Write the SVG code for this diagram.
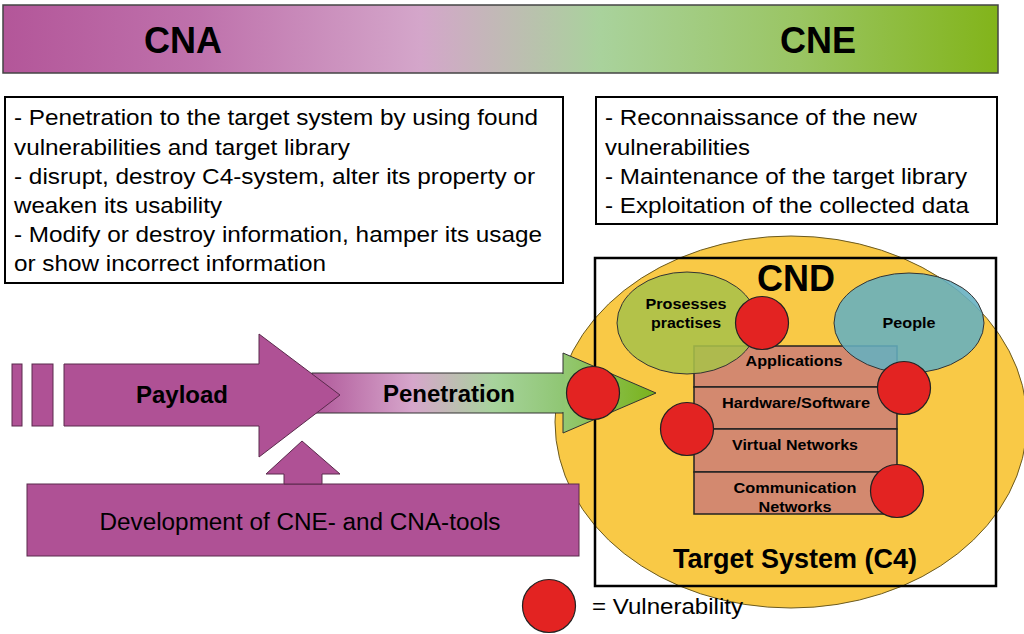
<svg xmlns="http://www.w3.org/2000/svg" width="1024" height="634" viewBox="0 0 1024 634">
  <defs>
    <linearGradient id="barGrad" x1="0" y1="0" x2="1" y2="0">
      <stop offset="0" stop-color="#B35699"/>
      <stop offset="0.2" stop-color="#BF72AC"/>
      <stop offset="0.42" stop-color="#D4A6CA"/>
      <stop offset="0.6" stop-color="#A9D29C"/>
      <stop offset="0.8" stop-color="#9AC563"/>
      <stop offset="1" stop-color="#82B41A"/>
    </linearGradient>
    <linearGradient id="penGrad" gradientUnits="userSpaceOnUse" x1="312" y1="0" x2="564" y2="0">
      <stop offset="0" stop-color="#B0589A"/>
      <stop offset="0.4" stop-color="#D6A6CB"/>
      <stop offset="0.72" stop-color="#A7D39C"/>
      <stop offset="1" stop-color="#8FC673"/>
    </linearGradient>
    <linearGradient id="headGrad" gradientUnits="userSpaceOnUse" x1="563" y1="0" x2="656" y2="0">
      <stop offset="0" stop-color="#93C873"/>
      <stop offset="1" stop-color="#7AB21A"/>
    </linearGradient>
    <style>
      .t { font-family: "Liberation Sans", Arial, sans-serif; fill: #000; }
      .b { font-weight: bold; }
      .box { fill: #fff; stroke: #000; stroke-width: 2; }
      .purple { fill: #AF5195; stroke: #5a2a4c; stroke-width: 1; }
      .layer { fill: #D3896F; stroke: #222; stroke-width: 1.5; }
      .vuln { fill: #E32322; stroke: #222; stroke-width: 1.2; }
      .mid { text-anchor: middle; }
    </style>
  </defs>

  <!-- CNA / CNE header bar -->
  <g id="header">
    <rect x="3" y="5" width="995" height="68" fill="url(#barGrad)" stroke="#444" stroke-width="1.5"/>
    <text class="t b mid" x="183" y="53" font-size="36">CNA</text>
    <text class="t b mid" x="818" y="53" font-size="36">CNE</text>
  </g>

  <!-- CNA description -->
  <g id="cna-text">
    <rect class="box" x="5" y="97" width="558" height="186"/>
    <g class="t" font-size="22" lengthAdjust="spacingAndGlyphs">
      <text x="14" y="125" textLength="524" lengthAdjust="spacingAndGlyphs">- Penetration to the target system by using found</text>
      <text x="14" y="155" textLength="336" lengthAdjust="spacingAndGlyphs">vulnerabilities and target library</text>
      <text x="14" y="184" textLength="521" lengthAdjust="spacingAndGlyphs">- disrupt, destroy C4-system, alter its property or</text>
      <text x="14" y="213" textLength="208" lengthAdjust="spacingAndGlyphs">weaken its usability</text>
      <text x="14" y="242" textLength="528" lengthAdjust="spacingAndGlyphs">- Modify or destroy information, hamper its usage</text>
      <text x="14" y="271" textLength="312" lengthAdjust="spacingAndGlyphs">or show incorrect information</text>
    </g>
  </g>

  <!-- CNE description -->
  <g id="cne-text">
    <rect class="box" x="596" y="97" width="401" height="127"/>
    <g class="t" font-size="22">
      <text x="605" y="125" textLength="312" lengthAdjust="spacingAndGlyphs">- Reconnaissance of the new</text>
      <text x="605" y="155" textLength="145" lengthAdjust="spacingAndGlyphs">vulnerabilities</text>
      <text x="605" y="184" textLength="362" lengthAdjust="spacingAndGlyphs">- Maintenance of the target library</text>
      <text x="605" y="213" textLength="364" lengthAdjust="spacingAndGlyphs">- Exploitation of the collected data</text>
    </g>
  </g>

  <!-- outer CND area -->
  <ellipse id="cnd-area" cx="791" cy="422" rx="236" ry="186" fill="#F9C946" stroke="#6b5a20" stroke-width="1"/>

  <!-- tool development -->
  <g id="development">
    <rect class="purple" x="27" y="484" width="552" height="72"/>
    <text class="t mid" x="300" y="530" font-size="23" textLength="401" lengthAdjust="spacingAndGlyphs">Development of CNE- and CNA-tools</text>
  </g>

  <g id="connectors">
    <!-- up arrow from development into payload -->
    <polygon class="purple" points="284,484 284,474 266,474 302,441 340,474 322,474 322,484"/>
    <!-- penetration arrow -->
    <rect x="312" y="373" width="252" height="40" fill="url(#penGrad)" stroke="#333" stroke-width="1"/>
    <polygon points="563,353 656,393 563,433" fill="url(#headGrad)" stroke="#333" stroke-width="1"/>
    <rect x="562" y="374" width="3" height="38" fill="#8FC673"/>
  </g>

  <!-- payload arrow -->
  <g id="payload">
    <rect class="purple" x="12" y="364" width="10" height="62"/>
    <rect class="purple" x="32" y="364" width="21" height="62"/>
    <polygon class="purple" points="64,364 259,364 259,334 340,395 259,457 259,426 64,426"/>
    <text class="t b mid" x="182" y="403" font-size="23" textLength="92" lengthAdjust="spacingAndGlyphs">Payload</text>
  </g>
  <text class="t b mid" x="449" y="402" font-size="23" textLength="132" lengthAdjust="spacingAndGlyphs">Penetration</text>

  <!-- target system frame -->
  <g id="target-system">
    <rect x="595" y="258" width="401" height="328" fill="none" stroke="#000" stroke-width="2.5"/>
    <text class="t b mid" x="796" y="291" font-size="36">CND</text>
    <text class="t b mid" x="795" y="568" font-size="28" textLength="244" lengthAdjust="spacingAndGlyphs">Target System (C4)</text>
  </g>

  <!-- system layers -->
  <g id="layers">
    <rect class="layer" x="694" y="346" width="203" height="41"/>
    <rect class="layer" x="694" y="387" width="203" height="42"/>
    <rect class="layer" x="694" y="429" width="203" height="43"/>
    <rect class="layer" x="694" y="472" width="203" height="42"/>
  </g>

  <!-- processes and people -->
  <g id="processes">
    <ellipse cx="687" cy="323" rx="70" ry="51" fill="#A8C04A" fill-opacity="0.88" stroke="#333" stroke-width="1"/>
    <text class="t b mid" x="686" y="309" font-size="15" textLength="81" lengthAdjust="spacingAndGlyphs">Prosesses</text>
    <text class="t b mid" x="686" y="328" font-size="15" textLength="70" lengthAdjust="spacingAndGlyphs">practises</text>
  </g>
  <g id="people">
    <ellipse cx="909" cy="323" rx="75" ry="50" fill="#64AFC0" fill-opacity="0.88" stroke="#333" stroke-width="1"/>
    <text class="t b mid" x="909" y="328" font-size="15" textLength="53" lengthAdjust="spacingAndGlyphs">People</text>
  </g>

  <g id="layer-labels" class="t b mid" font-size="15">
    <text x="794" y="366" textLength="97" lengthAdjust="spacingAndGlyphs">Applications</text>
    <text x="796" y="408" textLength="148" lengthAdjust="spacingAndGlyphs">Hardware/Software</text>
    <text x="795" y="450" textLength="126" lengthAdjust="spacingAndGlyphs">Virtual Networks</text>
    <text x="795" y="493" textLength="123" lengthAdjust="spacingAndGlyphs">Communication</text>
    <text x="795" y="512" textLength="73" lengthAdjust="spacingAndGlyphs">Networks</text>
  </g>

  <!-- vulnerabilities -->
  <g id="vulnerabilities">
    <circle class="vuln" cx="762" cy="323" r="26.5"/>
    <circle class="vuln" cx="904" cy="388" r="26.5"/>
    <circle class="vuln" cx="687" cy="429" r="26.5"/>
    <circle class="vuln" cx="897" cy="491" r="26.5"/>
    <circle class="vuln" cx="593" cy="393" r="26.5"/>
  </g>

  <!-- legend -->
  <g id="legend">
    <circle class="vuln" cx="549" cy="606" r="26.5"/>
    <text class="t" x="592" y="614" font-size="22" textLength="151" lengthAdjust="spacingAndGlyphs">= Vulnerability</text>
  </g>
</svg>
